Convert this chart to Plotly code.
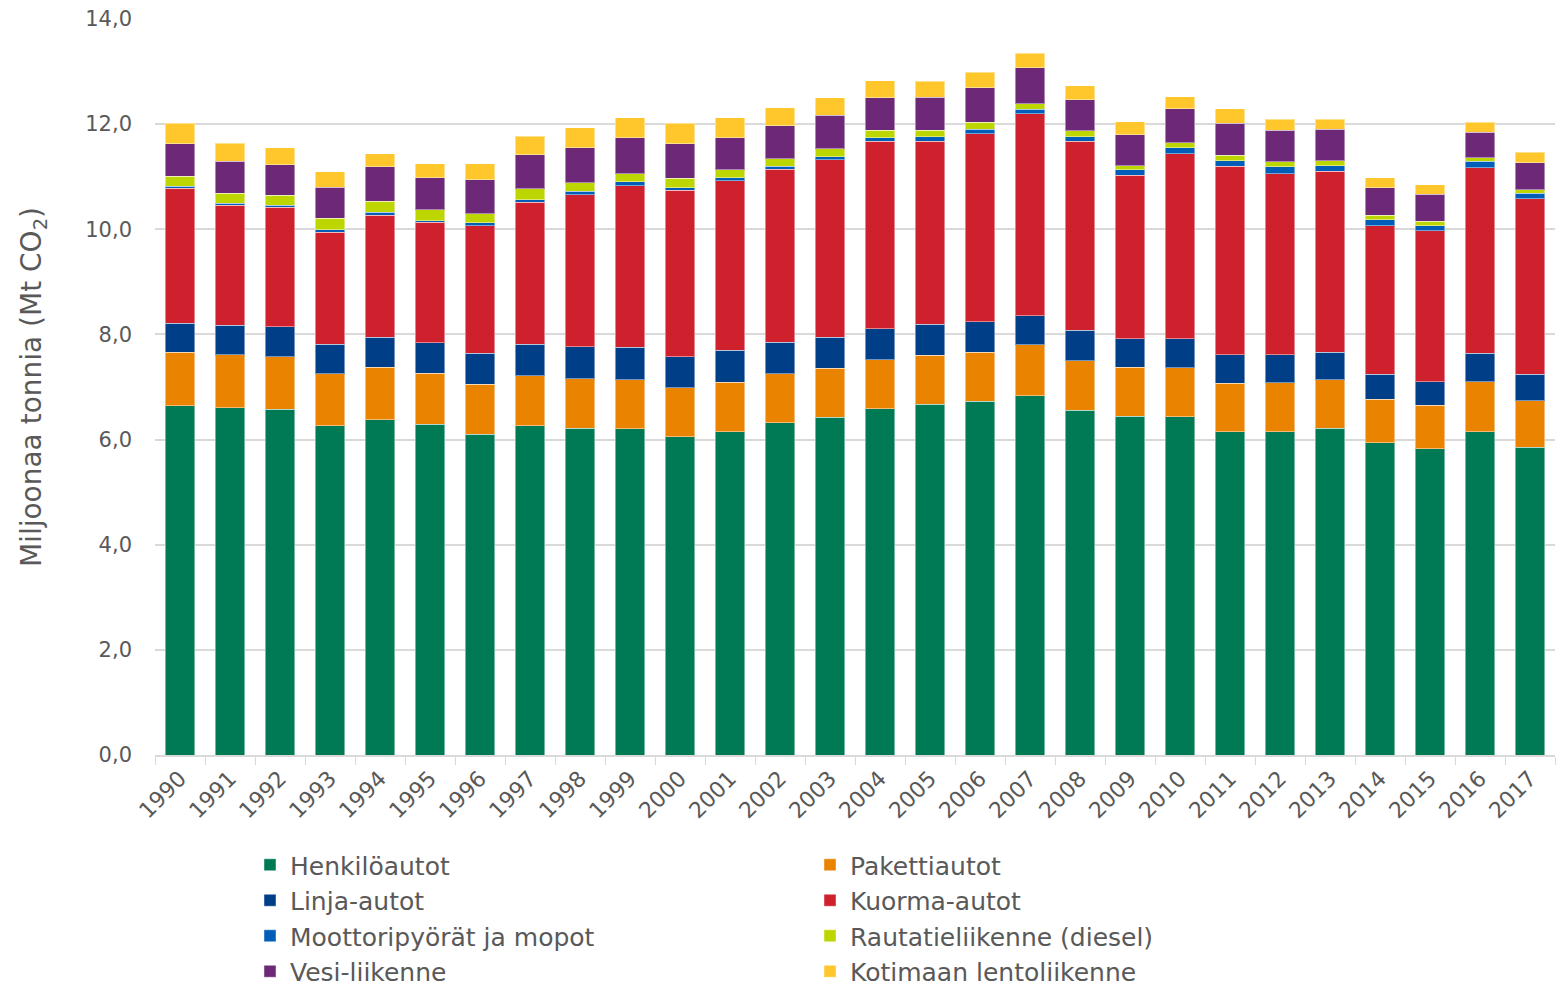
import plotly.graph_objects as go

years = [str(y) for y in range(1990, 2018)]

henkiloautot = [6.64, 6.61, 6.58, 6.26, 6.38, 6.29, 6.10, 6.26, 6.22, 6.21, 6.05, 6.15, 6.32, 6.42,
                6.59, 6.67, 6.73, 6.83, 6.56, 6.44, 6.43, 6.15, 6.15, 6.22, 5.94, 5.83, 6.15, 5.85]
pakettiautot = [1.02, 1.00, 1.00, 0.99, 1.00, 0.97, 0.95, 0.95, 0.94, 0.93, 0.94, 0.94, 0.93, 0.94,
                0.93, 0.93, 0.93, 0.97, 0.94, 0.94, 0.94, 0.92, 0.93, 0.92, 0.83, 0.82, 0.95, 0.89]
linja_autot = [0.55, 0.56, 0.57, 0.56, 0.57, 0.58, 0.59, 0.60, 0.61, 0.62, 0.59, 0.61, 0.60, 0.59,
               0.59, 0.59, 0.58, 0.56, 0.58, 0.54, 0.55, 0.54, 0.53, 0.52, 0.47, 0.45, 0.54, 0.50]
kuorma_autot = [2.57, 2.29, 2.27, 2.13, 2.32, 2.29, 2.43, 2.70, 2.89, 3.07, 3.16, 3.22, 3.29, 3.37,
                3.56, 3.48, 3.58, 3.84, 3.59, 3.11, 3.52, 3.59, 3.45, 3.44, 2.83, 2.87, 3.53, 3.34]
moottoripyorat = [0.04, 0.04, 0.04, 0.05, 0.05, 0.03, 0.05, 0.05, 0.06, 0.07, 0.05, 0.06, 0.06, 0.06,
                  0.07, 0.09, 0.08, 0.08, 0.09, 0.10, 0.11, 0.10, 0.13, 0.11, 0.11, 0.10, 0.12, 0.11]
rautatie = [0.19, 0.19, 0.19, 0.22, 0.21, 0.21, 0.18, 0.21, 0.17, 0.16, 0.18, 0.15, 0.14, 0.15,
            0.14, 0.12, 0.14, 0.11, 0.11, 0.08, 0.10, 0.11, 0.09, 0.09, 0.09, 0.08, 0.07, 0.06]
vesiliikenne = [0.62, 0.60, 0.58, 0.59, 0.66, 0.61, 0.64, 0.65, 0.66, 0.68, 0.66, 0.61, 0.63, 0.64,
                0.62, 0.63, 0.65, 0.68, 0.59, 0.59, 0.64, 0.61, 0.60, 0.60, 0.52, 0.52, 0.49, 0.52]
lentoliikenne = [0.39, 0.35, 0.32, 0.29, 0.25, 0.27, 0.31, 0.35, 0.38, 0.38, 0.39, 0.38, 0.34, 0.33,
                 0.33, 0.31, 0.30, 0.28, 0.27, 0.25, 0.23, 0.27, 0.21, 0.19, 0.19, 0.18, 0.19, 0.20]

series = [
    ("Henkilöautot", henkiloautot, "#007A55"),
    ("Pakettiautot", pakettiautot, "#E98300"),
    ("Linja-autot", linja_autot, "#003F87"),
    ("Kuorma-autot", kuorma_autot, "#CF202E"),
    ("Moottoripyörät ja mopot", moottoripyorat, "#005EB8"),
    ("Rautatieliikenne (diesel)", rautatie, "#BED600"),
    ("Vesi-liikenne", vesiliikenne, "#6E2878"),
    ("Kotimaan lentoliikenne", lentoliikenne, "#FFC72C"),
]

fig = go.Figure()
for name, vals, col in series:
    fig.add_trace(go.Bar(
        x=years, y=vals, name=name,
        marker=dict(color=col, line=dict(color="rgba(255,255,255,0.45)", width=1)),
    ))

grey = "#595959"
W, H = 1560, 980
fig.update_layout(
    barmode="stack",
    bargap=0.41,
    width=W, height=H,
    margin=dict(l=147, r=13, t=11, b=233, autoexpand=False),
    plot_bgcolor="white", paper_bgcolor="white",
    separators=", ",
    font=dict(family="DejaVu Sans", size=20, color=grey),
    showlegend=True,
    legend=dict(
        orientation="h",
        xref="container", yref="container",
        x=242 / W, xanchor="left",
        y=1 - 834 / H, yanchor="top",
        entrywidth=515, entrywidthmode="pixels",
        traceorder="normal",
        font=dict(family="DejaVu Sans", size=25, color=grey),
        bgcolor="rgba(0,0,0,0)",
    ),
    xaxis=dict(
        type="category",
        automargin=False,
        tickangle=-45,
        tickson="boundaries",
        ticks="outside", ticklen=8, tickcolor="#D9D9D9", tickwidth=1,
        showline=True, linecolor="#D9D9D9", linewidth=2,
        showgrid=False,
        tickfont=dict(family="DejaVu Sans", size=22, color=grey),
    ),
    yaxis=dict(
        range=[0, 14], dtick=2, tickformat=".1f",
        automargin=False,
        ticklabeloverflow="allow",
        showgrid=True, gridcolor="#D9D9D9", gridwidth=2,
        zeroline=False, showline=False,
        ticklabelstandoff=22,
        tickfont=dict(family="DejaVu Sans", size=21, color=grey),
        title=dict(text="Miljoonaa tonnia (Mt CO<sub>2</sub>)",
                   font=dict(family="DejaVu Sans", size=28, color=grey),
                   standoff=35),
    ),
)

fig.write_html("out.html")
